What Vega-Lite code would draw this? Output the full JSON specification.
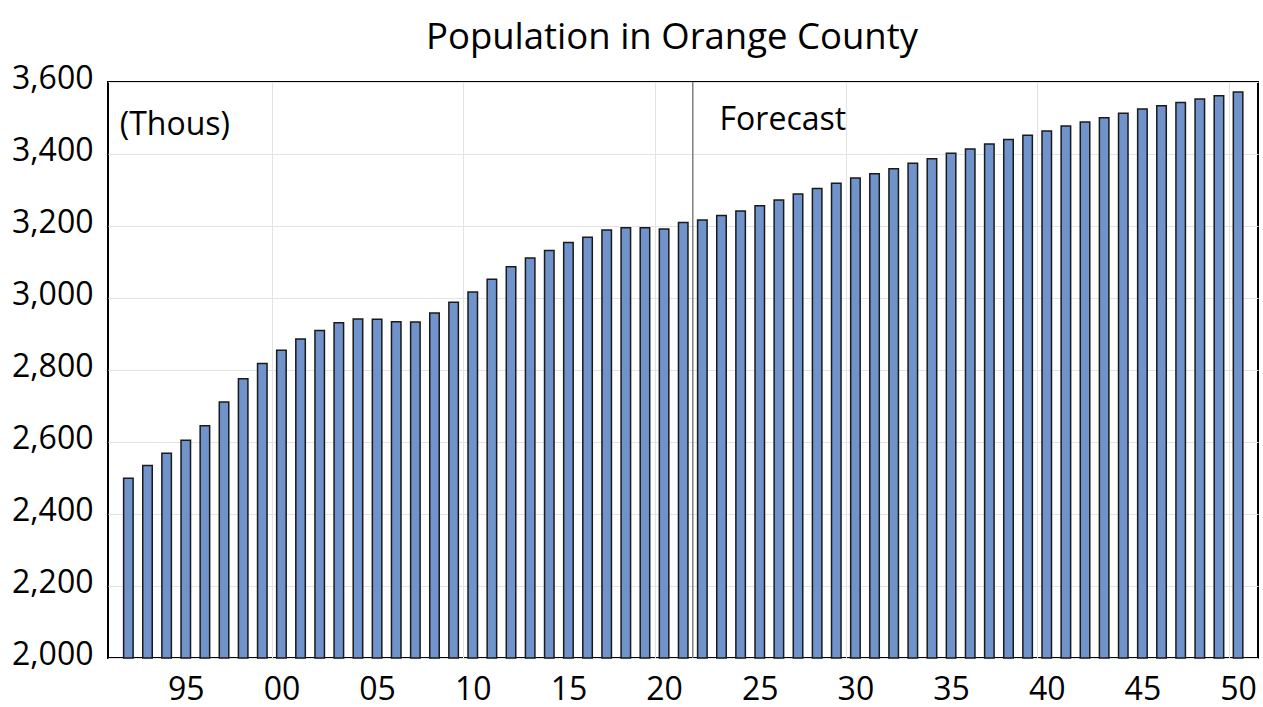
{
  "$schema": "https://vega.github.io/schema/vega-lite/v6.json",
  "width": 1150,
  "height": 576,
  "autosize": {"type": "none"},
  "padding": {"left": 108, "top": 82, "right": 5, "bottom": 49},
  "background": "white",
  "config": {
    "font": "Open Sans",
    "view": {"stroke": "#000000", "strokeWidth": 2}
  },
  "title": {
    "text": "Population in Orange County",
    "fontSize": 36.5,
    "fontWeight": "normal",
    "color": "#000000",
    "font": "Open Sans",
    "dx": -11,
    "dy": 23,
    "offset": 0,
    "baseline": "alphabetic"
  },
  "data": {
    "values": [
      {"year": 1992, "population": 2499},
      {"year": 1993, "population": 2535},
      {"year": 1994, "population": 2569},
      {"year": 1995, "population": 2605},
      {"year": 1996, "population": 2645},
      {"year": 1997, "population": 2711},
      {"year": 1998, "population": 2776},
      {"year": 1999, "population": 2818},
      {"year": 2000, "population": 2855},
      {"year": 2001, "population": 2886},
      {"year": 2002, "population": 2910},
      {"year": 2003, "population": 2931},
      {"year": 2004, "population": 2942},
      {"year": 2005, "population": 2941},
      {"year": 2006, "population": 2934},
      {"year": 2007, "population": 2933},
      {"year": 2008, "population": 2958},
      {"year": 2009, "population": 2988},
      {"year": 2010, "population": 3017},
      {"year": 2011, "population": 3052},
      {"year": 2012, "population": 3087},
      {"year": 2013, "population": 3111},
      {"year": 2014, "population": 3132},
      {"year": 2015, "population": 3154},
      {"year": 2016, "population": 3169},
      {"year": 2017, "population": 3189},
      {"year": 2018, "population": 3195},
      {"year": 2019, "population": 3195},
      {"year": 2020, "population": 3192},
      {"year": 2021, "population": 3210},
      {"year": 2022, "population": 3217},
      {"year": 2023, "population": 3229},
      {"year": 2024, "population": 3242},
      {"year": 2025, "population": 3256},
      {"year": 2026, "population": 3272},
      {"year": 2027, "population": 3289},
      {"year": 2028, "population": 3304},
      {"year": 2029, "population": 3319},
      {"year": 2030, "population": 3333},
      {"year": 2031, "population": 3345},
      {"year": 2032, "population": 3359},
      {"year": 2033, "population": 3374},
      {"year": 2034, "population": 3387},
      {"year": 2035, "population": 3402},
      {"year": 2036, "population": 3414},
      {"year": 2037, "population": 3428},
      {"year": 2038, "population": 3440},
      {"year": 2039, "population": 3452},
      {"year": 2040, "population": 3464},
      {"year": 2041, "population": 3478},
      {"year": 2042, "population": 3489},
      {"year": 2043, "population": 3501},
      {"year": 2044, "population": 3513},
      {"year": 2045, "population": 3525},
      {"year": 2046, "population": 3534},
      {"year": 2047, "population": 3543},
      {"year": 2048, "population": 3553},
      {"year": 2049, "population": 3562},
      {"year": 2050, "population": 3572}
    ]
  },
  "layer": [
    {
      "data": {"values": [{"label": "forecast start"}]},
      "mark": {"type": "rule", "color": "#808080", "strokeWidth": 1.5},
      "encoding": {
        "x": {
          "datum": 2021.5,
          "type": "quantitative",
          "scale": {"domain": [1991.197, 2050.78], "nice": false, "zero": false},
          "axis": {
            "orient": "bottom",
            "values": [1999.5, 2009.5, 2019.5, 2029.5, 2039.5, 2049.5],
            "grid": true,
            "gridColor": "#e3e3e3",
            "gridWidth": 1,
            "labels": false,
            "ticks": false,
            "domain": false,
            "title": null
          }
        }
      }
    },
    {
      "mark": {"type": "bar", "width": 9.5, "fill": "#7093cb", "stroke": "#1a1a1a", "strokeWidth": 1.5},
      "encoding": {
        "x": {
          "field": "year",
          "type": "quantitative",
          "scale": {"domain": [1991.197, 2050.78], "nice": false, "zero": false},
          "axis": {
            "orient": "bottom",
            "values": [1995, 2000, 2005, 2010, 2015, 2020, 2025, 2030, 2035, 2040, 2045, 2050],
            "format": "d",
            "labelExpr": "substring(datum.label, 2)",
            "grid": false,
            "ticks": false,
            "domain": false,
            "labelFontSize": 32,
            "labelColor": "#000000",
            "labelPadding": 16,
            "labelFlush": false,
            "labelOverlap": false,
            "title": null
          }
        },
        "y": {
          "field": "population",
          "type": "quantitative",
          "scale": {"domain": [2000, 3600], "nice": false, "zero": false},
          "axis": {
            "orient": "left",
            "values": [2000, 2200, 2400, 2600, 2800, 3000, 3200, 3400, 3600],
            "labelExpr": "format(datum.value, ',')",
            "grid": true,
            "gridColor": "#e3e3e3",
            "gridWidth": 1,
            "ticks": false,
            "domain": false,
            "labelFontSize": 32,
            "labelColor": "#000000",
            "labelPadding": 15,
            "labelFlush": false,
            "labelOverlap": false,
            "labelOffset": -4,
            "title": null
          }
        },
        "y2": {"datum": 2000}
      }
    },
    {
      "data": {"values": [{"label": "(Thous)"}]},
      "mark": {"type": "text", "fontSize": 32, "align": "left", "baseline": "alphabetic", "color": "#000000", "font": "Open Sans"},
      "encoding": {
        "text": {"field": "label"},
        "x": {"datum": 1991.55, "type": "quantitative", "axis": null, "scale": {"domain": [1991.197, 2050.78], "nice": false, "zero": false}},
        "y": {"datum": 3454, "type": "quantitative", "scale": {"domain": [2000, 3600], "nice": false, "zero": false}}
      }
    },
    {
      "data": {"values": [{"label": "Forecast"}]},
      "mark": {"type": "text", "fontSize": 32, "align": "left", "baseline": "alphabetic", "color": "#000000", "font": "Open Sans"},
      "encoding": {
        "text": {"field": "label"},
        "x": {"datum": 2022.9, "type": "quantitative", "axis": null, "scale": {"domain": [1991.197, 2050.78], "nice": false, "zero": false}},
        "y": {"datum": 3467, "type": "quantitative", "scale": {"domain": [2000, 3600], "nice": false, "zero": false}}
      }
    }
  ],
  "resolve": {"axis": {"x": "independent"}}
}
